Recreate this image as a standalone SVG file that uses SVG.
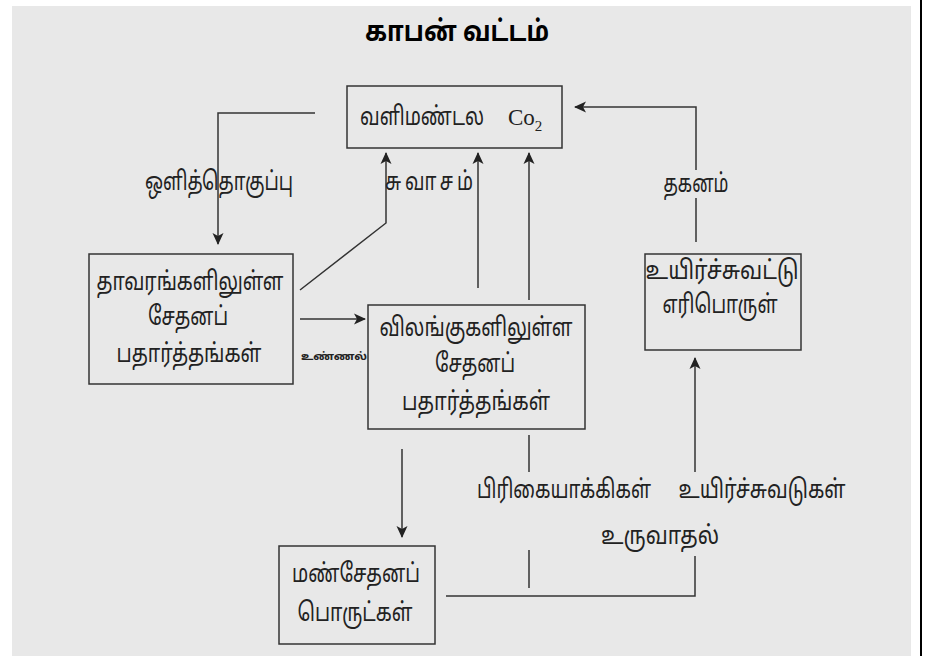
<svg xmlns="http://www.w3.org/2000/svg" width="933" height="656" viewBox="0 0 933 656">
<defs>
<marker id="ah" viewBox="0 0 12 12" refX="11" refY="6" markerWidth="12" markerHeight="12" markerUnits="userSpaceOnUse" orient="auto">
<path d="M0,0.5 L12,6 L0,11.5 L3,6 Z" fill="#222"/>
</marker>
<style>
.box{fill:none;stroke:#333;stroke-width:1.5}
.ln{fill:none;stroke:#333;stroke-width:1.5}
.t{font-family:"Noto Sans Tamil","Lohit Tamil","Noto Sans","DejaVu Sans",sans-serif;font-size:19px;fill:#222;text-anchor:middle}
.ttl{font-family:"Noto Sans Tamil","Lohit Tamil","Noto Sans","DejaVu Sans",sans-serif;font-size:24px;font-weight:bold;fill:#000;text-anchor:middle}
</style>
</defs>
<rect x="0" y="0" width="933" height="656" fill="#fff"/>
<rect x="12" y="6" width="899" height="650" fill="#e8e8e8"/>
<line x1="921" y1="0" x2="921" y2="656" stroke="#000" stroke-width="2"/>
<text class="ttl" transform="translate(457,41) scale(1,1.2)" textLength="184" lengthAdjust="spacingAndGlyphs">காபன் வட்டம்</text>

<g id="connectors">
<polyline class="ln" points="315,113 218,113 218,244" marker-end="url(#ah)"/>
<polyline class="ln" points="300,290 386,223 386,153" marker-end="url(#ah)"/>
<line class="ln" x1="478" y1="288" x2="478" y2="153" marker-end="url(#ah)"/>
<line class="ln" x1="529" y1="300" x2="529" y2="153" marker-end="url(#ah)"/>
<line class="ln" x1="300" y1="319" x2="365" y2="319" marker-end="url(#ah)"/>
<polyline class="ln" points="696,242 696,198"/>
<polyline class="ln" points="696,170 696,107 575,107" marker-end="url(#ah)"/>
<line class="ln" x1="402" y1="449" x2="402" y2="537" marker-end="url(#ah)"/>
<line class="ln" x1="529" y1="435" x2="529" y2="472"/>
<line class="ln" x1="529" y1="550" x2="529" y2="588"/>
<polyline class="ln" points="446,596 695,596 695,556"/>
<line class="ln" x1="695" y1="472" x2="695" y2="358" marker-end="url(#ah)"/>
</g>

<g id="labels">
<text class="t" transform="translate(219,190) scale(1,1.35)" textLength="148" lengthAdjust="spacingAndGlyphs">ஒளித்தொகுப்பு</text>
<text class="t" transform="translate(431,190) scale(1,1.35)" letter-spacing="4" textLength="92" lengthAdjust="spacingAndGlyphs">சுவாசம்</text>
<text class="t" transform="translate(696,192) scale(1,1.35)" textLength="65" lengthAdjust="spacingAndGlyphs">தகனம்</text>
<text class="t" x="334" y="360" style="font-size:11px;font-weight:bold" textLength="66" lengthAdjust="spacingAndGlyphs">உண்ணல்</text>
<text class="t" transform="translate(564,498) scale(1,1.35)" textLength="174" lengthAdjust="spacingAndGlyphs">பிரிகையாக்கிகள்</text>
<text class="t" transform="translate(762,498) scale(1,1.35)" textLength="167" lengthAdjust="spacingAndGlyphs">உயிர்ச்சுவடுகள்</text>
<text class="t" transform="translate(660,544) scale(1,1.35)" textLength="118" lengthAdjust="spacingAndGlyphs">உருவாதல்</text>
</g>

<g id="co2">
<rect class="box" x="347" y="86" width="215" height="62"/>
<text class="t" transform="translate(360,125) scale(1,1.35)" style="text-anchor:start" textLength="124" lengthAdjust="spacingAndGlyphs">வளிமண்டல</text>
<text x="508" y="125" style="font-family:'Liberation Serif',serif;font-size:23px;fill:#222">Co<tspan dy="6" font-size="15">2</tspan></text>
</g>

<g id="plants">
<rect class="box" x="89" y="254" width="204" height="130"/>
<text class="t" transform="translate(190,290) scale(1,1.35)" textLength="187" lengthAdjust="spacingAndGlyphs">தாவரங்களிலுள்ள</text>
<text class="t" transform="translate(188,325) scale(1,1.35)" textLength="80" lengthAdjust="spacingAndGlyphs">சேதனப்</text>
<text class="t" transform="translate(189,362) scale(1,1.35)" textLength="145" lengthAdjust="spacingAndGlyphs">பதார்த்தங்கள்</text>
</g>

<g id="animals">
<rect class="box" x="368" y="305" width="217" height="124"/>
<text class="t" transform="translate(476,336) scale(1,1.35)" textLength="193" lengthAdjust="spacingAndGlyphs">விலங்குகளிலுள்ள</text>
<text class="t" transform="translate(475,372) scale(1,1.35)" textLength="80" lengthAdjust="spacingAndGlyphs">சேதனப்</text>
<text class="t" transform="translate(476,410) scale(1,1.35)" textLength="148" lengthAdjust="spacingAndGlyphs">பதார்த்தங்கள்</text>
</g>

<g id="fossil">
<rect class="box" x="645" y="254" width="156" height="96"/>
<text class="t" transform="translate(722,279) scale(1,1.35)" textLength="153" lengthAdjust="spacingAndGlyphs">உயிர்ச்சுவட்டு</text>
<text class="t" transform="translate(720,313) scale(1,1.35)" textLength="115" lengthAdjust="spacingAndGlyphs">எரிபொருள்</text>
</g>

<g id="soil">
<rect class="box" x="279" y="546" width="156" height="98"/>
<text class="t" transform="translate(356,582) scale(1,1.35)" textLength="128" lengthAdjust="spacingAndGlyphs">மண்சேதனப்</text>
<text class="t" transform="translate(355,621) scale(1,1.35)" textLength="115" lengthAdjust="spacingAndGlyphs">பொருட்கள்</text>
</g>
</svg>
